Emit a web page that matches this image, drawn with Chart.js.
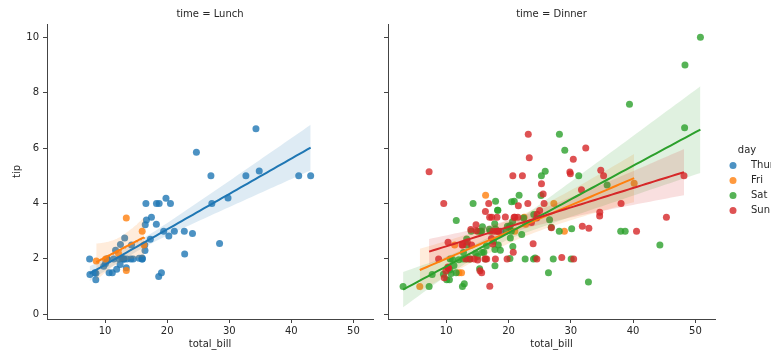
<!DOCTYPE html>
<html>
<head>
<meta charset="utf-8">
<script src="https://cdn.jsdelivr.net/npm/chart.js@4.4.1/dist/chart.umd.min.js"></script>
<style>
  html, body { margin: 0; padding: 0; background: #fff; }
  #wrap { position: relative; width: 771px; height: 350px; overflow: hidden; }
  canvas { position: absolute; top: 0; }
  #lunch { left: 0; }
  #dinner { left: 380px; }
</style>
</head>
<body>
<div id="wrap">
  <canvas id="lunch" width="380" height="350"></canvas>
  <canvas id="dinner" width="391" height="350"></canvas>
</div>
<script>
// tick labels and text
const xTicks = [10, 20, 30, 40, 50];
const yTicks = [0, 2, 4, 6, 8, 10];
const days = ['Thur', 'Fri', 'Sat', 'Sun'];
const panelTitles = ['time = Lunch', 'time = Dinner'];

// time = Lunch
const lunchThurBill = [27.2, 22.76, 17.29, 19.44, 16.66, 10.07, 32.68, 15.98, 34.83, 13.03, 18.28, 24.71, 21.16,
  10.65, 12.43, 24.08, 11.69, 13.42, 14.26, 15.95, 12.48, 29.8, 8.52, 14.52, 11.38, 22.82, 19.08, 20.27, 11.17,
  12.26, 18.26, 8.51, 10.33, 14.15, 16.0, 13.16, 17.47, 34.3, 41.19, 27.05, 16.43, 8.35, 18.64, 11.87, 9.78, 7.51,
  19.81, 28.44, 15.48, 16.58, 7.56, 10.34, 43.11, 13.0, 13.51, 18.71, 12.74, 13.0, 16.4, 20.53, 16.47];
const lunchThurTip = [4.0, 3.0, 2.71, 3.0, 3.4, 1.83, 5.0, 2.03, 5.17, 2.0, 4.0, 5.85, 3.0,
  1.5, 1.8, 2.92, 2.31, 1.68, 2.5, 2.0, 2.52, 4.2, 1.48, 2.0, 2.0, 2.18, 1.5, 2.83, 1.5,
  2.0, 3.25, 1.25, 2.0, 2.0, 2.0, 2.75, 3.5, 6.7, 5.0, 5.0, 2.3, 1.5, 1.36, 1.63, 1.73, 2.0,
  4.19, 2.56, 2.02, 4.0, 1.44, 2.0, 5.0, 2.0, 2.0, 4.0, 2.01, 2.0, 2.5, 4.0, 3.23];
const lunchFriBill = [12.16, 13.42, 8.58, 15.98, 13.42, 16.27, 10.09];
const lunchFriTip = [2.2, 3.48, 1.92, 3.0, 1.58, 2.5, 2.0];

// time = Dinner
const dinnerThurBill = [18.78];
const dinnerThurTip = [3.0];
const dinnerFriBill = [28.97, 22.49, 5.75, 16.32, 22.75, 40.17, 27.28, 12.03, 21.01, 12.46, 11.35, 15.38];
const dinnerFriTip = [3.0, 3.5, 1.0, 4.3, 3.25, 4.73, 4.0, 1.5, 3.0, 1.5, 2.5, 3.0];
const dinnerSatBill = [20.65, 17.92, 20.29, 15.77, 39.42, 19.82, 17.81, 13.37, 12.69, 21.7, 19.65, 9.55, 18.35,
  15.06, 20.69, 17.78, 24.06, 16.31, 16.93, 18.69, 31.27, 16.04,
  38.01, 26.41, 11.24, 48.27, 20.29, 13.81, 11.02, 18.29, 17.59, 20.08, 16.45, 3.07, 20.23, 15.01, 12.02, 17.07,
  26.86, 25.28, 14.73, 10.51, 17.92,
  44.3, 22.42, 20.92, 15.36, 20.49, 25.21, 18.24, 14.31, 14.0, 7.25,
  10.59, 10.63, 50.81, 15.81,
  26.59, 38.73, 24.27, 12.76, 30.06, 25.89, 48.33, 13.27, 28.17, 12.9, 28.15, 11.59, 7.74, 30.14,
  20.45, 13.28, 22.12, 24.01, 15.69, 11.61, 10.77, 15.53, 10.07, 12.6, 32.83, 35.83, 29.03, 27.18, 22.67, 17.82];
const dinnerSatTip = [3.35, 4.08, 2.75, 2.23, 7.58, 3.18, 2.34, 2.0, 2.0, 4.3, 3.0, 1.45, 2.5,
  3.0, 2.45, 3.27, 3.6, 2.0, 3.07, 2.31, 5.0, 2.24,
  3.0, 1.5, 1.76, 6.73, 3.21, 2.0, 1.98, 3.76, 2.64, 3.15, 2.47, 1.0, 2.01, 2.09, 1.97, 3.0,
  3.14, 5.0, 2.2, 1.25, 3.08,
  2.5, 3.48, 4.08, 1.64, 4.06, 4.29, 3.76, 4.0, 3.0, 1.0,
  1.61, 2.0, 10.0, 3.16,
  3.41, 3.0, 2.03, 2.23, 2.0, 5.16, 9.0, 2.5, 6.5, 1.1, 3.0, 1.5, 1.44, 3.09,
  3.0, 2.72, 2.88, 2.0, 3.0, 3.39, 1.47, 3.0, 1.25, 1.0, 1.17, 4.67, 5.92, 2.0, 2.0, 1.75];
const dinnerSunBill = [16.99, 10.34, 21.01, 23.68, 24.59, 25.29, 8.77, 26.88, 15.04, 14.78, 10.27, 35.26, 15.42,
  18.43, 14.83, 21.58, 10.33, 16.29, 16.97,
  17.46, 13.94, 9.68, 30.4, 18.29, 22.23, 32.4, 28.55, 18.04, 12.54, 10.29, 34.81, 9.94, 25.56, 19.49,
  38.07, 23.95, 25.71, 17.31, 29.93,
  14.07, 13.13, 17.26, 24.55, 19.77, 29.85, 48.17, 25.0, 13.39, 16.49, 21.5, 12.66, 16.21, 13.81, 17.51, 24.52,
  20.76, 31.71,
  7.25, 31.85, 16.82, 32.9, 17.89, 14.48, 9.6, 34.63, 34.65, 23.33, 45.35, 23.17, 40.55, 20.69, 20.9, 30.46,
  18.15, 23.1, 15.69];
const dinnerSunTip = [1.01, 1.66, 3.5, 3.31, 3.61, 4.71, 2.0, 3.12, 1.96, 3.23, 1.71, 5.0, 1.57,
  3.0, 3.02, 3.92, 1.67, 3.71, 3.5,
  2.54, 3.06, 1.32, 5.6, 3.0, 5.0, 6.0, 2.05, 3.0, 2.5, 2.6, 5.2, 1.56, 4.34, 3.51,
  4.0, 2.55, 4.0, 3.5, 5.07,
  2.5, 2.0, 2.74, 2.0, 2.0, 5.14, 5.0, 3.75, 2.61, 2.0, 3.5, 2.5, 2.0, 2.0, 3.0, 3.48,
  2.24, 4.5,
  5.15, 3.18, 4.0, 3.11, 2.0, 2.0, 4.0, 3.55, 3.68, 5.65, 3.5, 6.5, 3.0, 5.0, 3.5, 2.0,
  3.5, 4.0, 1.5];

const dayColors = { Thur: [31, 119, 180], Fri: [255, 127, 14], Sat: [44, 160, 44], Sun: [214, 39, 40] };
const rgba = (c, a) => `rgba(${c[0]},${c[1]},${c[2]},${a})`;
const FONT = 'DejaVu Sans';

// least squares fit with a 95% band; mixes the sandwich and classic variance
// so it behaves roughly like seaborn's bootstrap band
function fitBand(xs, ys) {
  const n = xs.length;
  let sx = 0, sy = 0, sxx = 0, sxy = 0;
  for (let i = 0; i < n; i++) { sx += xs[i]; sy += ys[i]; sxx += xs[i] * xs[i]; sxy += xs[i] * ys[i]; }
  const det = n * sxx - sx * sx;
  const slope = (n * sxy - sx * sy) / det;
  const icpt = (sy - slope * sx) / n;
  const i00 = sxx / det, i01 = -sx / det, i11 = n / det;
  let m00 = 0, m01 = 0, m11 = 0, sse = 0;
  for (let i = 0; i < n; i++) {
    const e = ys[i] - (icpt + slope * xs[i]);
    const e2 = e * e;
    sse += e2;
    m00 += e2; m01 += e2 * xs[i]; m11 += e2 * xs[i] * xs[i];
  }
  const k = n / (n - 2);
  const s2 = sse / (n - 2);
  const a00 = i00 * m00 + i01 * m01, a01 = i00 * m01 + i01 * m11;
  const a10 = i01 * m00 + i11 * m01, a11 = i01 * m01 + i11 * m11;
  const v00 = k * (a00 * i00 + a01 * i01), v01 = k * (a00 * i01 + a01 * i11), v11 = k * (a10 * i01 + a11 * i11);
  const lo = Math.min(...xs), hi = Math.max(...xs);
  const line = [], upper = [], lower = [];
  const steps = 60;
  for (let j = 0; j <= steps; j++) {
    const x = lo + (hi - lo) * j / steps;
    const y = icpt + slope * x;
    const vHC = Math.max(0, v00 + 2 * x * v01 + x * x * v11);
    const vCl = s2 * (i00 + 2 * x * i01 + x * x * i11);
    const se = Math.sqrt(Math.max(vHC, (vHC + vCl) / 2));
    line.push({ x, y });
    upper.push({ x, y: y + 1.96 * se });
    lower.push({ x, y: y - 1.96 * se });
  }
  return { line, upper, lower };
}

function buildDatasets(groups) {
  const under = [], lines = [];
  groups.forEach(g => {
    const c = dayColors[g.day];
    under.push({
      label: g.day, data: g.bill.map((b, i) => ({ x: b, y: g.tip[i] })),
      showLine: false, pointRadius: 3.5, pointHoverRadius: 3.5, pointBorderWidth: 0,
      pointBackgroundColor: rgba(c, 0.8), borderColor: 'transparent'
    });
    if (g.bill.length < 3) return;
    const f = fitBand(g.bill, g.tip);
    under.push({ label: g.day + ' ci', data: f.upper, pointRadius: 0, borderWidth: 0, borderColor: 'transparent',
      fill: '+1', backgroundColor: rgba(c, 0.15), tension: 0 });
    under.push({ label: g.day + ' ci low', data: f.lower, pointRadius: 0, borderWidth: 0, borderColor: 'transparent',
      fill: false, tension: 0 });
    lines.push({ label: g.day + ' fit', data: f.line, pointRadius: 0, borderWidth: 2, borderColor: rgba(c, 1),
      fill: false, tension: 0 });
  });
  const all = under.concat(lines);
  all.forEach((d, i) => { d.order = -i; });
  return all;
}

const panelTitle = {
  id: 'panelTitle',
  afterDraw(chart, args, opts) {
    const { ctx, chartArea } = chart;
    ctx.save();
    ctx.fillStyle = '#262626';
    ctx.font = `10px "${FONT}"`;
    ctx.textAlign = 'center';
    ctx.textBaseline = 'middle';
    ctx.fillText(opts.text, (chartArea.left + chartArea.right) / 2, 14);
    ctx.restore();
  }
};

const dayLegend = {
  id: 'dayLegend',
  afterDraw(chart) {
    const ctx = chart.ctx;
    const x0 = chart.chartArea.right;
    ctx.save();
    ctx.font = `10px "${FONT}"`;
    ctx.fillStyle = '#262626';
    ctx.textBaseline = 'middle';
    ctx.textAlign = 'center';
    ctx.fillText('day', x0 + 32, 150);
    ctx.textAlign = 'left';
    days.forEach((d, i) => {
      const y = 165.5 + i * 15;
      ctx.fillStyle = rgba(dayColors[d], 0.8);
      ctx.beginPath();
      ctx.arc(x0 + 18, y, 3.5, 0, Math.PI * 2);
      ctx.fill();
      ctx.fillStyle = '#262626';
      ctx.fillText(d, x0 + 36, y);
    });
    ctx.restore();
  }
};

function makeOptions(title, showYLabels, padRight, yWidth) {
  const tickFont = { family: FONT, size: 10 };
  return {
    responsive: false,
    animation: false,
    devicePixelRatio: 1,
    layout: { padding: { top: 24, right: padRight, left: 0, bottom: 0 } },
    plugins: { legend: { display: false }, tooltip: { enabled: false }, panelTitle: { text: title } },
    scales: {
      x: {
        type: 'linear', min: 0.65, max: 53.15,
        afterBuildTicks: s => { s.ticks = xTicks.map(v => ({ value: v })); },
        afterFit: s => { s.height = 31; },
        grid: { drawOnChartArea: false, drawTicks: true, tickLength: 4, color: '#444', tickColor: '#444' },
        border: { display: true, color: '#444', width: 1 },
        ticks: { font: tickFont, color: '#262626', padding: 2, maxRotation: 0, autoSkip: false },
        title: { display: true, text: 'total_bill', font: { family: FONT, size: 10, lineHeight: 1.2 },
          color: '#262626', padding: { top: 0, bottom: 0 } }
      },
      y: {
        type: 'linear', min: -0.17, max: 10.48,
        afterBuildTicks: s => { s.ticks = yTicks.map(v => ({ value: v })); },
        afterFit: s => { s.width = yWidth; },
        grid: { drawOnChartArea: false, drawTicks: true, tickLength: 4, color: '#444', tickColor: '#444' },
        border: { display: true, color: '#444', width: 1 },
        ticks: { font: tickFont, color: '#262626', padding: 4, autoSkip: false,
          callback: v => (showYLabels ? String(v) : '') },
        title: { display: showYLabels, text: 'tip', font: { family: FONT, size: 10, lineHeight: 1.2 },
          color: '#262626', padding: { top: 11, bottom: 0 } }
      }
    }
  };
}

new Chart(document.getElementById('lunch'), {
  type: 'line',
  data: { datasets: buildDatasets([
    { day: 'Thur', bill: lunchThurBill, tip: lunchThurTip },
    { day: 'Fri', bill: lunchFriBill, tip: lunchFriTip }
  ]) },
  options: makeOptions(panelTitles[0], true, 7, 47),
  plugins: [panelTitle]
});

new Chart(document.getElementById('dinner'), {
  type: 'line',
  data: { datasets: buildDatasets([
    { day: 'Thur', bill: dinnerThurBill, tip: dinnerThurTip },
    { day: 'Fri', bill: dinnerFriBill, tip: dinnerFriTip },
    { day: 'Sat', bill: dinnerSatBill, tip: dinnerSatTip },
    { day: 'Sun', bill: dinnerSunBill, tip: dinnerSunTip }
  ]) },
  options: makeOptions(panelTitles[1], false, 56, 8),
  plugins: [panelTitle, dayLegend]
});
</script>
</body>
</html>
